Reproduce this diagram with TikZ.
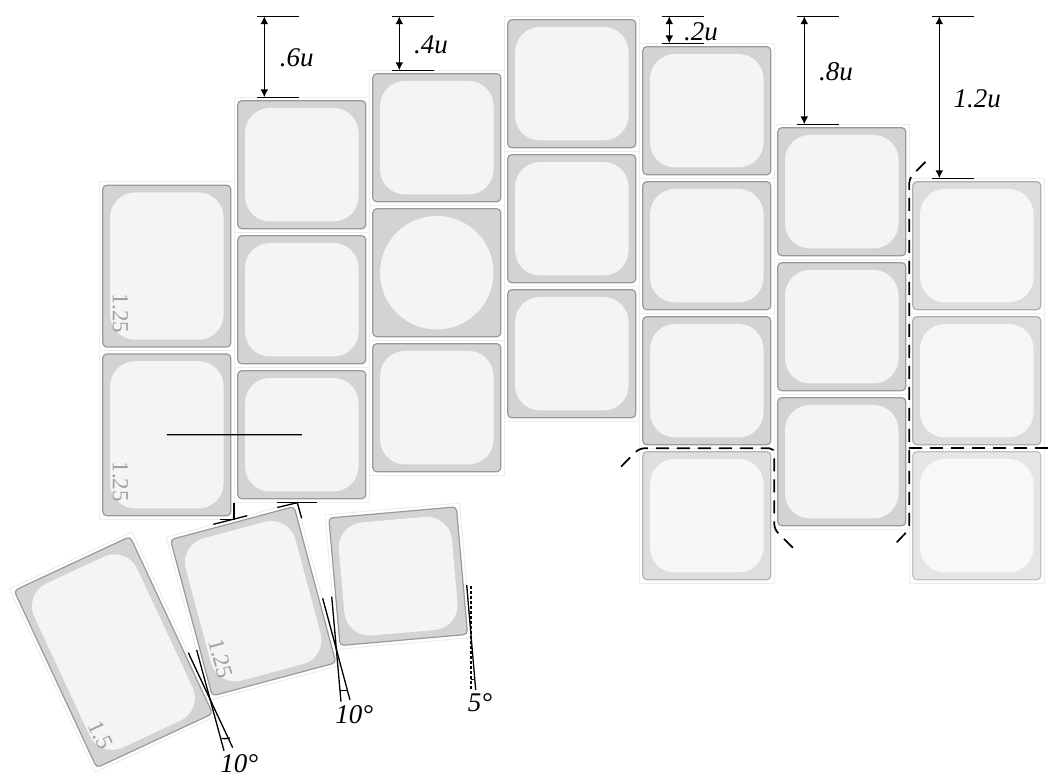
\documentclass[tikz,border=0pt]{standalone}
\usepackage{fontspec}
\setmainfont{Liberation Serif}
\usetikzlibrary{arrows.meta}
\definecolor{keyfill}{HTML}{D3D3D3}
\definecolor{keyedge}{HTML}{9A9A9A}
\definecolor{keytopfill}{HTML}{F4F4F4}
\definecolor{keyframeedge}{HTML}{EDEDED}
\definecolor{keytext}{HTML}{A0A0A0}
\tikzset{
  keyframe/.style={draw=keyframeedge, line width=1pt, minimum width=135pt, inner sep=0pt, outer sep=0pt},
  keybody/.style={rounded corners=4pt, line width=1.2pt, minimum width=128pt, inner sep=0pt, outer sep=0pt},
  keytop/.style={rounded corners=25pt, minimum width=113.5pt, inner sep=0pt, outer sep=0pt},
  keylabel/.style={text=keytext, font=\fontsize{23}{23}\selectfont, inner sep=0pt},
  dimtick/.style={black, line width=1.1pt},
  dimarrow/.style={black, line width=1.5pt, {Latex[length=8pt,width=8pt]}-{Latex[length=8pt,width=8pt]}},
  dimlabel/.style={font=\fontsize{27}{27}\selectfont\itshape, inner sep=0pt},
  anglemark/.style={black, line width=1.3pt},
  splitline/.style={black, line width=1.7pt, dash pattern=on 13pt off 8pt, rounded corners=5pt}
}
\newcommand{\keycap}[7]{
  \begin{scope}[shift={(#2,#3)},rotate=#5]
    \node[keyframe, minimum height=135pt*#4, rotate=#5] (#1f) at (0,0) {};
    \node[keybody, draw=keyedge!#6!white, fill=keyfill!#6!white, minimum height=135pt*#4-7pt, rotate=#5] (#1) at (0,0) {};
    \node[keytop, fill=keytopfill!#6!white, minimum height=135pt*#4-21.5pt, rotate=#5] (#1t) at (0,0) {};
    \node[keylabel, rotate=#5-90, anchor=east] (#1l) at (-46.5,135*#4/2-17) {#7};
  \end{scope}
}
\newcommand{\dimline}[6]{
  \coordinate (#1a) at (#2,16.2);
  \coordinate (#1b) at (#2,#3);
  \draw[dimtick] (#1a) ++(-7,0) coordinate (#1c) -- ++(41.7,0);
  \draw[dimtick] (#1b) ++(-7,0) coordinate (#1d) -- ++(41.7,0);
  \draw[dimarrow] (#1a) -- (#1b);
  \node[dimlabel] (#1l) at (#5,#6) {#4};
}
\begin{document}
\begin{tikzpicture}[x=1pt,y=-1pt]
\useasboundingbox (0,0) rectangle (1055,780);

\keycap{ka}{166.8}{266.1}{1.25}{0}{100}{1.25}
\keycap{kb}{166.8}{434.8}{1.25}{0}{100}{1.25}

\keycap{kc}{301.8}{164.7}{1}{0}{100}{}
\keycap{kd}{301.8}{299.7}{1}{0}{100}{}
\keycap{ke}{301.8}{434.7}{1}{0}{100}{}

\keycap{kf}{436.8}{137.7}{1}{0}{100}{}
\node[keyframe, minimum height=135pt] (kgf) at (436.8,272.7) {};
\node[keybody, draw=keyedge, fill=keyfill, minimum height=128pt] (kg) at (436.8,272.7) {};
\node[circle, fill=keytopfill, minimum size=113.5pt, inner sep=0pt] (kgt) at (436.8,272.7) {};
\keycap{kh}{436.8}{407.7}{1}{0}{100}{}

\keycap{ki}{571.8}{83.7}{1}{0}{100}{}
\keycap{kj}{571.8}{218.7}{1}{0}{100}{}
\keycap{kk}{571.8}{353.7}{1}{0}{100}{}

\keycap{kl}{706.8}{110.7}{1}{0}{100}{}
\keycap{km}{706.8}{245.7}{1}{0}{100}{}
\keycap{kn}{706.8}{380.7}{1}{0}{100}{}
\keycap{ko}{706.8}{515.7}{1}{0}{75}{}

\keycap{kp}{841.8}{191.7}{1}{0}{100}{}
\keycap{kq}{841.8}{326.7}{1}{0}{100}{}
\keycap{kr}{841.8}{461.7}{1}{0}{100}{}

\keycap{ks}{976.8}{245.7}{1}{0}{80}{}
\keycap{kt}{976.8}{380.7}{1}{0}{80}{}
\keycap{ku}{976.8}{515.7}{1}{0}{60}{}

\keycap{tha}{113.4}{652.1}{1.5}{25}{100}{1.5}
\keycap{thb}{253.2}{601.2}{1.25}{15}{100}{1.25}
\keycap{thc}{398.2}{576.2}{1}{5}{100}{}

\draw[black, line width=1.3pt] (kb.center) -- (ke.center);

\dimline{da}{264.3}{97.3}{.6u}{296.7}{58}
\dimline{db}{399.3}{70.3}{.4u}{431}{45}
\dimline{dc}{669.3}{43.3}{.2u}{701}{31.7}
\dimline{dd}{804.3}{124.3}{.8u}{836}{71.7}
\dimline{de}{939.3}{178.3}{1.2u}{977.3}{98.3}

\coordinate (sa) at (621,466.7);
\coordinate (sb) at (639.3,448.3);
\coordinate (sc) at (774.3,448.3);
\coordinate (sd) at (774.3,529.2);
\coordinate (se) at (792.8,547.7);
\draw[splitline] (sa) -- (sb) -- (sc) -- (sd) -- (se);
\coordinate (sf) at (896.7,542.3);
\coordinate (sg) at (909.3,529.2);
\coordinate (sh) at (909.3,178.2);
\coordinate (si) at (927.3,160);
\draw[splitline] (sf) -- (sg) -- (sh) -- (si);
\coordinate (sj) at (909.3,448.3);
\coordinate (sk) at (1048.3,448.3);
\draw[splitline] (sj) -- (sk);

\coordinate (ta) at (234,502.7);
\coordinate (tb) at (234,519.5);
\coordinate (tc) at (220,519.5);
\coordinate (td) at (213.3,524.3);
\coordinate (te) at (247.3,515.7);
\draw[anglemark] (ta) -- (tb) -- (tc);
\draw[anglemark] (td) -- (te);
\coordinate (tf) at (277.3,502.7);
\coordinate (tg) at (316.7,502.7);
\coordinate (th) at (277.3,507.5);
\coordinate (ti) at (297.3,502.7);
\coordinate (tj) at (301.7,518.3);
\draw[anglemark] (tf) -- (tg);
\draw[anglemark] (th) -- (ti) -- (tj);

\coordinate (aa) at (188.3,652.7);
\coordinate (ab) at (232.7,747.7);
\coordinate (ac) at (196.7,650);
\coordinate (ad) at (224,750.7);
\coordinate (ae) at (221.7,738.5);
\coordinate (af) at (230,738);
\draw[anglemark] (aa) -- (ab);
\draw[anglemark] (ac) -- (ad);
\draw[anglemark] (ae) to[bend right=10] (af);
\node[dimlabel] (al) at (239.3,763.3) {10°};

\coordinate (ba) at (322.7,598.3);
\coordinate (bb) at (350,700);
\coordinate (bc) at (331.7,596.7);
\coordinate (bd) at (341,701.7);
\coordinate (be) at (340.3,690.7);
\coordinate (bf) at (347.3,690.7);
\draw[anglemark] (ba) -- (bb);
\draw[anglemark] (bc) -- (bd);
\draw[anglemark] (be) to[bend right=10] (bf);
\node[dimlabel] (bl) at (354.3,715) {10°};

\coordinate (ca) at (466.7,585);
\coordinate (cb) at (475.7,690);
\coordinate (cc) at (471,586);
\coordinate (cd) at (471,690.7);
\coordinate (ce) at (471,679.5);
\coordinate (cf) at (474.8,679.5);
\draw[anglemark] (ca) -- (cb);
\draw[anglemark, dash pattern=on 2.8pt off 2.2pt] (cc) -- (cd);
\draw[anglemark] (ce) to[bend right=10] (cf);
\node[dimlabel] (cl) at (480,702.3) {5°};
\end{tikzpicture}
\end{document}
